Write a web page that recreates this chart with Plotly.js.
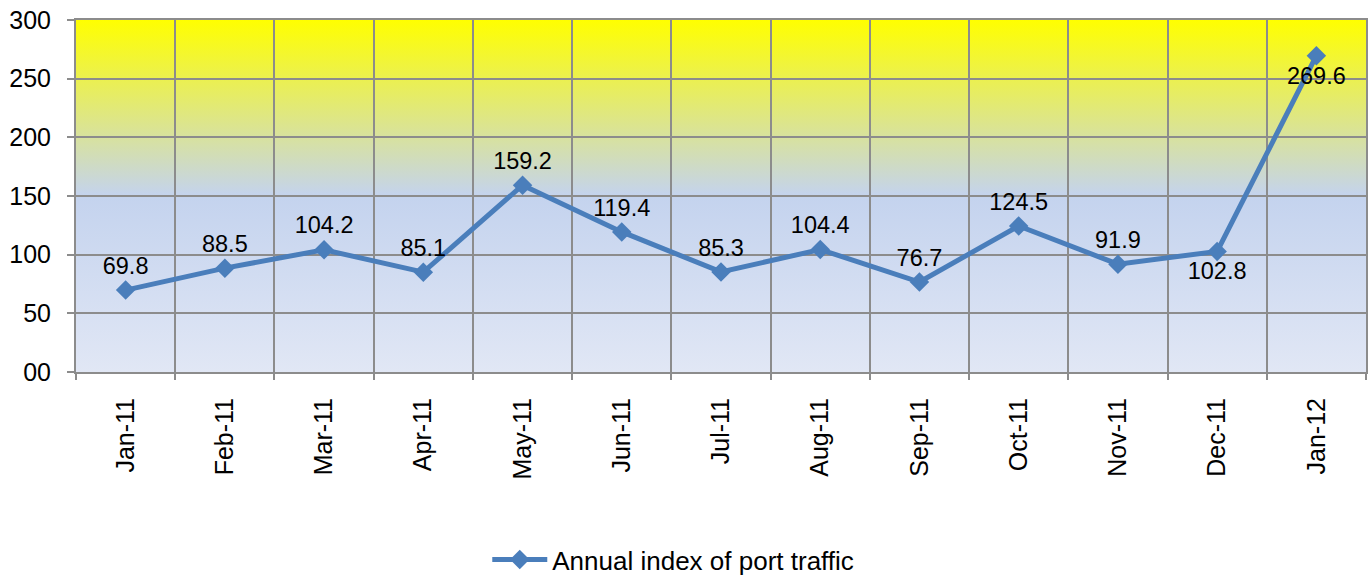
<!DOCTYPE html>
<html><head><meta charset="utf-8">
<script src="https://cdn.plot.ly/plotly-3.0.1.min.js"></script>
<style>html,body{margin:0;padding:0;background:#fff}#chart{width:1370px;height:577px}</style>
</head><body><div id="chart"></div>
<script>
const categories = ["Jan-11","Feb-11","Mar-11","Apr-11","May-11","Jun-11","Jul-11","Aug-11","Sep-11","Oct-11","Nov-11","Dec-11","Jan-12"];
const values = [69.8, 88.5, 104.2, 85.1, 159.2, 119.4, 85.3, 104.4, 76.7, 124.5, 91.9, 102.8, 269.6];
const labelPositions = ["top center","top center","top center","top center","top center","top center","top center","top center","top center","top center","top center","bottom center","bottom center"];
const yTickVals = [0, 50, 100, 150, 200, 250, 300];
const yTickText = ["00", "50", "100", "150", "200", "250", "300"];
const seriesName = "Annual index of port traffic";

const svg = '<svg xmlns="http://www.w3.org/2000/svg" width="100" height="100" preserveAspectRatio="none">' +
  '<defs><linearGradient id="g" x1="0" y1="0" x2="0" y2="1">' +
  '<stop offset="0" stop-color="#ffff00"/>' +
  '<stop offset="0.5" stop-color="#c4d3ee"/>' +
  '<stop offset="1" stop-color="#e1e7f5"/>' +
  '</linearGradient></defs><rect width="100" height="100" fill="url(#g)"/></svg>';
const bg = 'data:image/svg+xml;base64,' + btoa(svg);

const font = 'Arial, "Liberation Sans", sans-serif';

Plotly.newPlot('chart', [{
  x: categories,
  y: values,
  type: 'scatter',
  mode: 'lines+markers+text',
  name: seriesName,
  text: values.map(v => v.toFixed(1)),
  textposition: labelPositions,
  textfont: {family: font, size: 23.5, color: '#000'},
  line: {color: '#4a7ebb', width: 5},
  marker: {symbol: 'diamond', size: 15, color: '#4a7ebb'},
  cliponaxis: false
}], {
  width: 1370, height: 577,
  margin: {l: 76, r: 4, t: 20, b: 205},
  paper_bgcolor: '#fff',
  plot_bgcolor: 'rgba(0,0,0,0)',
  showlegend: true,
  legend: {orientation: 'h', x: 0.463, xanchor: 'center', yref: 'container', y: 0.03, yanchor: 'middle',
           itemwidth: 55,
           font: {family: font, size: 26, color: '#000'}, bgcolor: 'rgba(0,0,0,0)'},
  images: [{source: bg, xref: 'paper', yref: 'paper', x: 0, y: 1, sizex: 1, sizey: 1,
            sizing: 'stretch', xanchor: 'left', yanchor: 'top', layer: 'below'}],
  xaxis: {
    type: 'category', tickson: 'boundaries', tickangle: -90,
    tickfont: {family: font, size: 25, color: '#000'},
    showgrid: true, gridcolor: '#8c8c8c', gridwidth: 2,
    ticks: 'outside', ticklen: 6, tickwidth: 2, tickcolor: '#8c8c8c',
    showline: true, linecolor: '#8c8c8c', linewidth: 2, mirror: true,
    ticklabelstandoff: 14, zeroline: false, range: [-0.5, 12.5], automargin: false
  },
  yaxis: {
    range: [0, 300], tickvals: yTickVals, ticktext: yTickText,
    tickfont: {family: font, size: 25, color: '#000'},
    showgrid: true, gridcolor: '#8c8c8c', gridwidth: 2,
    ticks: 'outside', ticklen: 7, tickwidth: 2, tickcolor: '#8c8c8c',
    showline: true, linecolor: '#8c8c8c', linewidth: 2, mirror: true,
    ticklabelstandoff: 11, zeroline: false, automargin: false
  }
}, {displayModeBar: false, staticPlot: true});
</script></body></html>
